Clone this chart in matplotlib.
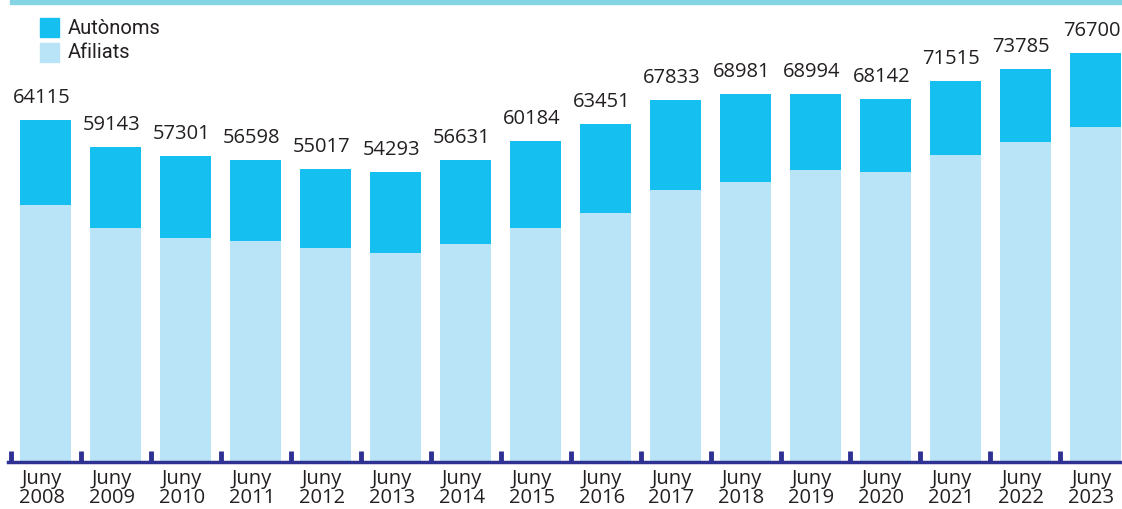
import matplotlib
matplotlib.use("Agg")
import matplotlib.pyplot as plt
from matplotlib.patches import Rectangle
from matplotlib import font_manager

years = ["2008", "2009", "2010", "2011", "2012", "2013", "2014", "2015",
         "2016", "2017", "2018", "2019", "2020", "2021", "2022", "2023"]
totals = [64115, 59143, 57301, 56598, 55017, 54293, 56631, 60184,
          63451, 67833, 68981, 68994, 68142, 71515, 73785, 76700]
afiliats = [48200, 43940, 42060, 41440, 40190, 39190, 40880, 43940,
            46700, 51010, 52510, 54760, 54380, 57570, 60010, 62820]
autonoms = [t - a for t, a in zip(totals, afiliats)]
tick_labels = [f"Juny\n{y}" for y in years]

c_aut = "#15c0f0"
c_afi = "#b9e4f7"
c_axis = "#2e3192"
c_text = "#231f20"

# condensed font for the legend if there is one
names = {f.name for f in font_manager.fontManager.ttflist}
leg_font = "Liberation Sans Narrow" if "Liberation Sans Narrow" in names else "Roboto"

fig = plt.figure(figsize=(11.22, 5.09), dpi=100)
ax = fig.add_axes([8 / 1122, 1 - 462 / 509, 1 - 8 / 1122, 462 / 509])

x = list(range(len(years)))
ax.bar(x, afiliats, width=0.73, color=c_afi, label="Afiliats", zorder=2)
ax.bar(x, autonoms, width=0.73, bottom=afiliats, color=c_aut, label="Autònoms", zorder=2)

for xi, t in zip(x, totals):
    ax.annotate(str(t), (xi, t), xytext=(-4, 12), textcoords="offset pixels",
                ha="center", va="bottom", fontsize=14.5, family="Open Sans", color=c_text)

ax.set_xlim(-0.54, 15.38)
ax.set_ylim(0, 86640)
for s in ["top", "right", "left"]:
    ax.spines[s].set_visible(False)
ax.spines["bottom"].set_color(c_axis)
ax.spines["bottom"].set_linewidth(2.5)
ax.set_yticks([])

# ticks between bars, pointing up
ax.set_xticks([i - 0.5 for i in range(len(years))])
ax.tick_params(axis="x", direction="in", length=8, width=3.5, color=c_axis,
               labelbottom=False)
for xi, lab in zip(x, tick_labels):
    ax.annotate(lab, (xi, 0), xytext=(-4, -7), textcoords="offset pixels",
                ha="center", va="top", fontsize=14.5, family="Open Sans",
                color=c_text, linespacing=0.92)

# legend
for k, (lab, col) in enumerate([("Autònoms", c_aut), ("Afiliats", c_afi)]):
    y0 = 1 - (18 + k * 25) / 509
    fig.add_artist(Rectangle((40 / 1122, y0 - 19 / 509), 19 / 1122, 19 / 509,
                             transform=fig.transFigure, color=col))
    fig.text(68 / 1122, y0 - 10 / 509, lab, ha="left", va="center", fontsize=14.5,
             family=[leg_font, "DejaVu Sans"], color=c_text)

# top band
fig.add_artist(Rectangle((10 / 1122, 1 - 4 / 509), 1, 4 / 509,
                         transform=fig.transFigure, color="#85d4e3"))

fig.savefig("out.png", dpi=100)
